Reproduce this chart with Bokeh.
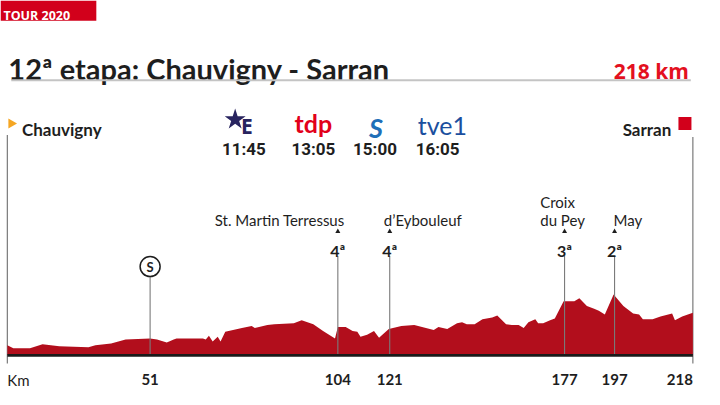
from bokeh.plotting import figure
from bokeh.models import Range1d
from bokeh.core.properties import value
from bokeh.embed import file_html
from bokeh.resources import INLINE

# ---------------- data ----------------
# distance along the drawn profile (km) and elevation (m)
profile_km = [0.0, 1.9, 7.2, 11.2, 16.5, 25.8, 28.0, 33.0, 37.6, 45.4, 47.6, 50.7,
              52.9, 53.8, 62.2, 63.1, 64.1, 65.3, 66.9, 67.8, 69.3, 74.6, 77.7, 78.7,
              82.7, 84.9, 91.1, 93.6, 97.3, 100.4, 104.2, 105.1, 107.6, 109.8, 111.3,
              112.3, 114.4, 116.6, 118.2, 121.3, 125.3, 129.4, 135.6, 137.1, 139.9,
              143.0, 144.6, 146.1, 148.6, 151.1, 154.2, 155.8, 158.6, 160.4, 162.6,
              164.2, 165.7, 167.9, 168.8, 170.4, 172.6, 174.1, 176.9, 180.3, 181.9,
              184.3, 186.6, 188.1, 190.0, 192.8, 195.9, 199.0, 200.9, 202.1, 205.2,
              207.7, 211.4, 212.3, 214.6, 218.0]
profile_alt = [155, 109, 109, 171, 140, 124, 155, 186, 248, 264, 248, 202,
               248, 264, 264, 248, 310, 217, 295, 217, 372, 434, 465, 434,
               481, 496, 512, 558, 496, 388, 264, 450, 450, 388, 372,
               295, 326, 388, 279, 419, 465, 481, 403, 450, 419,
               512, 527, 496, 496, 574, 605, 636, 496, 481, 481,
               434, 527, 574, 512, 512, 558, 589, 868, 868, 915,
               791, 744, 713, 651, 977, 791, 667, 651, 574, 574,
               620, 667, 558, 620, 682]

# kilometre marks (drawn position on the profile, label)
mark_pos = [45.4, 105.1, 121.6, 177.2, 193.1, 218.0]
mark_labels = ["51", "104", "121", "177", "197", "218"]

# intermediate sprint
sprint_pos = [45.4]
sprint_label = ["S"]

# categorised climbs
climb_pos = [105.1, 121.6, 177.2, 193.1]
climb_cat = ["4ª", "4ª", "3ª", "2ª"]

tv_times = ["11:45", "13:05", "15:00", "16:05"]

title_text = "12ª etapa: Chauvigny - Sarran"
distance_text = "218 km"
start_town = "Chauvigny"
finish_town = "Sarran"

# ---------------- figure ----------------
W, H = 704, 389
p = figure(width=W, height=H, output_backend="svg", toolbar_location=None,
           x_range=Range1d(-2.177, 221.70), y_range=Range1d(-558, 5719.5),
           min_border=0, min_border_left=0, min_border_right=0,
           min_border_top=0, min_border_bottom=0)
p.axis.visible = False
p.grid.visible = False
p.outline_line_color = None
p.background_fill_color = "white"
p.border_fill_color = "white"

# pixel-like helper ranges for the decorations (reference 720x405 layout)
p.extra_x_ranges = {"px": Range1d(0, 720)}
p.extra_y_ranges = {"px": Range1d(405, 0)}

RED = "#d2001b"
FILL = "#b20e1c"
DARK = "#1e1e1e"
GREY = "#7a7a7a"
F = value("Lato")
FO = value("Open Sans")
FR = value("Roboto")

# header red box
p.quad(left=[0], right=[98], top=[0], bottom=[21], fill_color=RED, line_color=None,
       x_range_name="px", y_range_name="px")
p.text(x=[3], y=[16], text=["TOUR 2020"], text_font=FO, text_font_style="bold",
       text_font_size="12.5px", text_color="white", text_baseline="alphabetic",
       x_range_name="px", y_range_name="px")

# title & distance
p.text(x=[8], y=[71], text=[title_text], text_font=F, text_font_style="bold",
       text_font_size="29px", text_color=DARK, text_baseline="alphabetic",
       x_range_name="px", y_range_name="px")
p.text(x=[704], y=[73], text=[distance_text], text_font=FO, text_font_style="bold",
       text_font_size="21px", text_color="#e3101e", text_align="right",
       text_baseline="alphabetic", x_range_name="px", y_range_name="px")
p.segment(x0=[11], x1=[706], y0=[83], y1=[83], line_color="#c4c4c4", line_width=2,
          x_range_name="px", y_range_name="px")

# start / finish
p.scatter(x=[11], y=[128], marker="triangle", angle=-1.5708, size=10,
          fill_color="#f5a623", line_color=None, x_range_name="px", y_range_name="px")
p.text(x=[22], y=[134], text=[start_town], text_font=F, text_font_style="bold",
       text_font_size="17px", text_color=DARK, text_baseline="alphabetic",
       x_range_name="px", y_range_name="px")
p.scatter(x=[700], y=[128], marker="square", size=13, fill_color=RED, line_color=None,
          x_range_name="px", y_range_name="px")
p.text(x=[686], y=[134], text=[finish_town], text_font=F, text_font_style="bold",
       text_font_size="17px", text_color=DARK, text_align="right",
       text_baseline="alphabetic", x_range_name="px", y_range_name="px")

# TV logos (approximations) and times
NAVY = "#28245f"
p.scatter(x=[240], y=[124], marker="star", size=22, fill_color=NAVY, line_color=None,
          x_range_name="px", y_range_name="px")
p.text(x=[246], y=[131], text=["E"], text_font=FO, text_font_style="bold",
       text_font_size="21px", text_color=NAVY, text_baseline="alphabetic",
       x_range_name="px", y_range_name="px")
p.text(x=[320], y=[128], text=["tdp"], text_font=F,
       text_font_style="bold", text_font_size="25px", text_color="#e2001a",
       text_align="center", text_baseline="alphabetic",
       x_range_name="px", y_range_name="px")
p.text(x=[384], y=[132], text=["S"], text_font=F, text_font_style="bold italic",
       text_font_size="27px", text_color="#1f6fb8", text_align="center",
       text_baseline="alphabetic", x_range_name="px", y_range_name="px")
p.text(x=[452], y=[130], text=["tve1"], text_font=F, text_font_style="normal",
       text_font_size="25px", text_color="#1b4f9e", text_align="center",
       text_baseline="alphabetic", x_range_name="px", y_range_name="px")
p.text(x=[249, 320, 383, 447], y=[155] * 4, text=tv_times, text_font=FR,
       text_font_style="bold", text_font_size="17px", text_color=DARK,
       text_align="center", text_baseline="alphabetic",
       x_range_name="px", y_range_name="px")

# start/finish vertical lines
p.segment(x0=[0, 218], x1=[0, 218], y0=[140, 142], y1=[378, 378], line_color=GREY,
          line_width=1.2, y_range_name="px")

# profile
p.varea(x=profile_km, y1=[0] * len(profile_km), y2=profile_alt, fill_color=FILL)
p.segment(x0=[0], x1=[218], y0=[369.5], y1=[369.5], line_color="#1a1a1a",
          line_width=2.6, y_range_name="px")

# climb marker lines, triangles, categories
p.segment(x0=climb_pos, x1=climb_pos, y0=[266] * 4, y1=[368] * 4,
          line_color=GREY, line_width=1.1, y_range_name="px")
p.scatter(x=climb_pos, y=[240.5] * 4, marker="triangle", size=5,
          fill_color=DARK, line_color=None, y_range_name="px")
p.text(x=climb_pos, y=[260] * 4, text=climb_cat, text_font=F, text_font_style="bold",
       text_font_size="16px", text_color=DARK, text_align="center",
       text_baseline="alphabetic", y_range_name="px")

# climb names
p.text(x=[352], y=[229], text=["St. Martin Terressus"], text_font=F,
       text_font_size="15px", text_color=DARK, text_align="right",
       text_baseline="alphabetic", x_range_name="px", y_range_name="px")
p.text(x=[392, 552, 552, 627], y=[229, 210, 229, 229],
       text=["d’Eybouleuf", "Croix", "du Pey", "May"], text_font=F,
       text_font_size="15px", text_color=DARK, text_align="left",
       text_baseline="alphabetic", x_range_name="px", y_range_name="px")

# sprint
p.segment(x0=sprint_pos, x1=sprint_pos, y0=[288], y1=[368], line_color=GREY,
          line_width=1.1, y_range_name="px")
p.scatter(x=sprint_pos, y=[277], marker="circle", size=20, fill_color="white",
          line_color=DARK, line_width=1.5, y_range_name="px")
p.text(x=sprint_pos, y=[277.5], text=sprint_label, text_font=F, text_font_style="bold",
       text_font_size="13px", text_color=DARK, text_align="center",
       text_baseline="middle", y_range_name="px")

# km labels
p.text(x=[7], y=[395], text=["Km"], text_font=F, text_font_size="15px",
       text_color=DARK, text_baseline="alphabetic",
       x_range_name="px", y_range_name="px")
p.text(x=mark_pos[:-1], y=[395] * 5, text=mark_labels[:-1], text_font=F,
       text_font_style="bold", text_font_size="15px", text_color=DARK,
       text_align="center", text_baseline="alphabetic", y_range_name="px")
p.text(x=mark_pos[-1:], y=[395], text=mark_labels[-1:], text_font=F,
       text_font_style="bold", text_font_size="15px", text_color=DARK,
       text_align="right", text_baseline="alphabetic", y_range_name="px")

open("out.html", "w").write(file_html(p, INLINE))
